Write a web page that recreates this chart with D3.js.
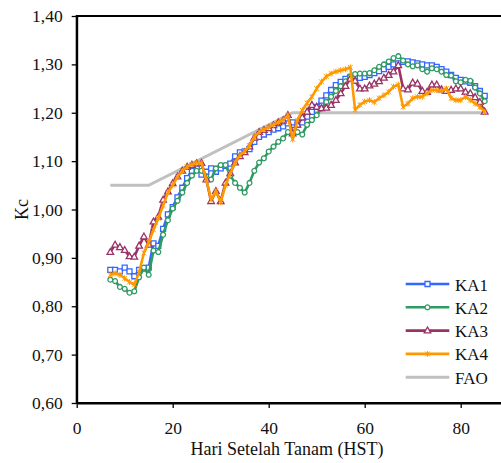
<!DOCTYPE html>
<html>
<head>
<meta charset="utf-8">
<script src="https://cdn.jsdelivr.net/npm/d3@7"></script>
<style>
  body { margin: 0; background: #fff; }
  svg { display: block; font-family: 'Liberation Serif', 'Times New Roman', serif; }
</style>
</head>
<body>
<svg></svg>
<script>
// hari setelah tanam (HST)
const days = [7, 8, 9, 10, 11, 12, 13, 14, 15, 16,
    17, 18, 19, 20, 21, 22, 23, 24, 25, 26,
    27, 28, 29, 30, 31, 32, 33, 34, 35, 36,
    37, 38, 39, 40, 41, 42, 43, 44, 45, 46,
    47, 48, 49, 50, 51, 52, 53, 54, 55, 56,
    57, 58, 59, 60, 61, 62, 63, 64, 65, 66,
    67, 68, 69, 70, 71, 72, 73, 74, 75, 76,
    77, 78, 79, 80, 81, 82, 83, 84, 85];

const ka1 = [0.875, 0.875, 0.872, 0.880, 0.872, 0.862, 0.875, 0.878, 0.880, 0.930,
    0.925, 0.960, 0.990, 1.005, 1.025, 1.045, 1.065, 1.080, 1.085, 1.072,
    1.078, 1.085, 1.078, 1.085, 1.090, 1.095, 1.110, 1.118, 1.120, 1.125,
    1.140, 1.150, 1.155, 1.160, 1.165, 1.168, 1.172, 1.178, 1.180, 1.175,
    1.180, 1.192, 1.202, 1.212, 1.225, 1.236, 1.247, 1.257, 1.264, 1.270,
    1.274, 1.276, 1.272, 1.274, 1.278, 1.282, 1.286, 1.290, 1.295, 1.300,
    1.302, 1.305, 1.306, 1.304, 1.302, 1.300, 1.298, 1.298, 1.295, 1.290,
    1.285, 1.278, 1.272, 1.268, 1.265, 1.262, 1.255, 1.245, 1.235];

const ka2 = [0.855, 0.852, 0.840, 0.836, 0.828, 0.831, 0.860, 0.880, 0.865, 0.915,
    0.912, 0.948, 0.978, 1.002, 1.018, 1.035, 1.055, 1.070, 1.080, 1.080,
    1.068, 1.062, 1.085, 1.092, 1.092, 1.070, 1.055, 1.045, 1.035, 1.055,
    1.080, 1.097, 1.106, 1.120, 1.130, 1.140, 1.147, 1.160, 1.165, 1.160,
    1.155, 1.175, 1.185, 1.195, 1.209, 1.222, 1.233, 1.245, 1.255, 1.265,
    1.275, 1.280, 1.281, 1.281, 1.282, 1.288, 1.295, 1.300, 1.306, 1.313,
    1.317, 1.308, 1.300, 1.296, 1.298, 1.290, 1.285, 1.292, 1.290, 1.285,
    1.278, 1.277, 1.265, 1.263, 1.268, 1.266, 1.252, 1.240, 1.224];

const ka3 = [0.912, 0.927, 0.922, 0.916, 0.903, 0.902, 0.925, 0.944, 0.927, 0.975,
    0.985, 1.020, 1.037, 1.054, 1.068, 1.080, 1.088, 1.092, 1.095, 1.096,
    1.062, 1.017, 1.038, 1.017, 1.055, 1.075, 1.097, 1.110, 1.118, 1.130,
    1.148, 1.160, 1.164, 1.168, 1.174, 1.180, 1.184, 1.195, 1.157, 1.175,
    1.190, 1.202, 1.216, 1.212, 1.209, 1.210, 1.216, 1.226, 1.240, 1.255,
    1.270, 1.266, 1.250, 1.250, 1.256, 1.260, 1.265, 1.272, 1.278, 1.285,
    1.298, 1.250, 1.248, 1.262, 1.260, 1.245, 1.243, 1.258, 1.258, 1.248,
    1.245, 1.247, 1.250, 1.250, 1.243, 1.240, 1.232, 1.222, 1.202];

const ka4 = [0.865, 0.868, 0.865, 0.858, 0.850, 0.845, 0.870, 0.910, 0.932, 0.958,
    0.982, 1.008, 1.035, 1.050, 1.068, 1.080, 1.088, 1.093, 1.096, 1.096,
    1.062, 1.020, 1.038, 1.015, 1.050, 1.075, 1.097, 1.112, 1.120, 1.132,
    1.150, 1.160, 1.165, 1.170, 1.175, 1.180, 1.185, 1.195, 1.145, 1.185,
    1.205, 1.220, 1.233, 1.250, 1.264, 1.275, 1.281, 1.285, 1.288, 1.290,
    1.294, 1.206, 1.216, 1.223, 1.226, 1.222, 1.230, 1.236, 1.243, 1.254,
    1.258, 1.212, 1.219, 1.230, 1.233, 1.233, 1.240, 1.247, 1.247, 1.245,
    1.250, 1.230, 1.226, 1.226, 1.233, 1.226, 1.219, 1.212, 1.202];

const faoDays = [7, 15, 45, 85];
const fao = [1.05, 1.05, 1.20, 1.20];

const xTicks = [0, 20, 40, 60, 80];
const yTicks = [0.6, 0.7, 0.8, 0.9, 1.0, 1.1, 1.2, 1.3, 1.4];

const svgWidth = 501;
const svgHeight = 463;

const svg = d3.select('svg')
    .attr('width', svgWidth)
    .attr('height', svgHeight);

const xScale = d3.scaleLinear().domain([0, 90]).range([76.7, 508.7]);
const yScale = d3.scaleLinear().domain([0.6, 1.4]).range([403, 16]);

const fmt = d => d3.format('.2f')(d).replace('.', ',');

// plot area border (right side is cut off by the picture)
svg.append('rect')
    .attr('x', xScale(0))
    .attr('y', yScale(1.4))
    .attr('width', xScale(90) - xScale(0))
    .attr('height', yScale(0.6) - yScale(1.4))
    .attr('fill', 'none')
    .attr('stroke', 'black')
    .attr('stroke-width', 2);

const yAxis = svg.append('g')
    .attr('transform', `translate(${xScale(0)},0)`)
    .call(d3.axisLeft(yScale).tickValues(yTicks).tickFormat(fmt).tickSize(5).tickSizeOuter(0).tickPadding(9));

const xAxis = svg.append('g')
    .attr('transform', `translate(0,${yScale(0.6)})`)
    .call(d3.axisBottom(xScale).tickValues(xTicks).tickSize(5).tickSizeOuter(0).tickPadding(14));

[xAxis, yAxis].forEach(g => {
    g.select('.domain').attr('stroke', 'black').attr('stroke-width', 2);
    g.selectAll('.tick line').attr('stroke', 'black').attr('stroke-width', 1.3);
    g.selectAll('.tick text')
        .attr('fill', '#111')
        .attr('font-size', '17.5px')
        .attr('font-family', "'Liberation Serif', serif");
});

svg.append('text')
    .attr('x', 287)
    .attr('y', 455)
    .attr('text-anchor', 'middle')
    .attr('font-size', '18px')
    .attr('fill', '#111')
    .text('Hari Setelah Tanam (HST)');

svg.append('text')
    .attr('transform', `translate(28,${(yScale(0.6) + yScale(1.4)) / 2}) rotate(-90)`)
    .attr('text-anchor', 'middle')
    .attr('font-size', '18px')
    .attr('fill', '#111')
    .text('Kc');

// marker shapes
const markers = {
    square: 'M-2.5,-2.5H2.5V2.5H-2.5Z',
    circle: 'M2.4,0A2.4,2.4 0 1,1 -2.4,0A2.4,2.4 0 1,1 2.4,0Z',
    triangle: 'M0,-3.6L3.3,2.3H-3.3Z',
    star: 'M-2.4,-2.4L2.4,2.4M-2.4,2.4L2.4,-2.4M0,-3L0,3'
};

const series = [
    { name: 'KA1', values: ka1, color: '#3366ff', marker: 'square' },
    { name: 'KA2', values: ka2, color: '#2f9a62', marker: 'circle' },
    { name: 'KA3', values: ka3, color: '#993366', marker: 'triangle' },
    { name: 'KA4', values: ka4, color: '#ff9900', marker: 'star' }
];

const line = d3.line()
    .x(d => xScale(d.day))
    .y(d => yScale(d.value));

// FAO line
svg.append('path')
    .datum(faoDays.map((d, i) => ({ day: d, value: fao[i] })))
    .attr('fill', 'none')
    .attr('stroke', '#c0c0c0')
    .attr('stroke-width', 3)
    .attr('d', line);

series.forEach(s => {
    const pts = days.map((d, i) => ({ day: d, value: s.values[i] }));
    svg.append('path')
        .datum(pts)
        .attr('fill', 'none')
        .attr('stroke', s.color)
        .attr('stroke-width', 2.6)
        .attr('stroke-linejoin', 'round')
        .attr('d', line);

    svg.selectAll('.m-' + s.name)
        .data(pts)
        .enter().append('path')
        .attr('class', 'm-' + s.name)
        .attr('transform', d => `translate(${xScale(d.day)},${yScale(d.value)})`)
        .attr('d', markers[s.marker])
        .attr('fill', s.marker === 'star' ? 'none' : 'white')
        .attr('stroke', s.color)
        .attr('stroke-width', s.marker === 'star' ? 1 : 1.3);
});

// legend
const legendItems = [...series, { name: 'FAO', color: '#c0c0c0', marker: null }];
const legend = svg.append('g');
legendItems.forEach((s, i) => {
    const y = 284 + i * 23.3;
    legend.append('line')
        .attr('x1', 405.7).attr('x2', 449.3)
        .attr('y1', y).attr('y2', y)
        .attr('stroke', s.color)
        .attr('stroke-width', s.marker ? 2.6 : 3);
    if (s.marker) {
        legend.append('path')
            .attr('transform', `translate(427.5,${y})`)
            .attr('d', markers[s.marker])
            .attr('fill', s.marker === 'star' ? 'none' : 'white')
            .attr('stroke', s.color)
            .attr('stroke-width', s.marker === 'star' ? 1 : 1.3);
    }
    legend.append('text')
        .attr('x', 455)
        .attr('y', y + 6.5)
        .attr('font-size', '17px')
        .attr('fill', '#111')
        .text(s.name);
});
</script>
</body>
</html>
